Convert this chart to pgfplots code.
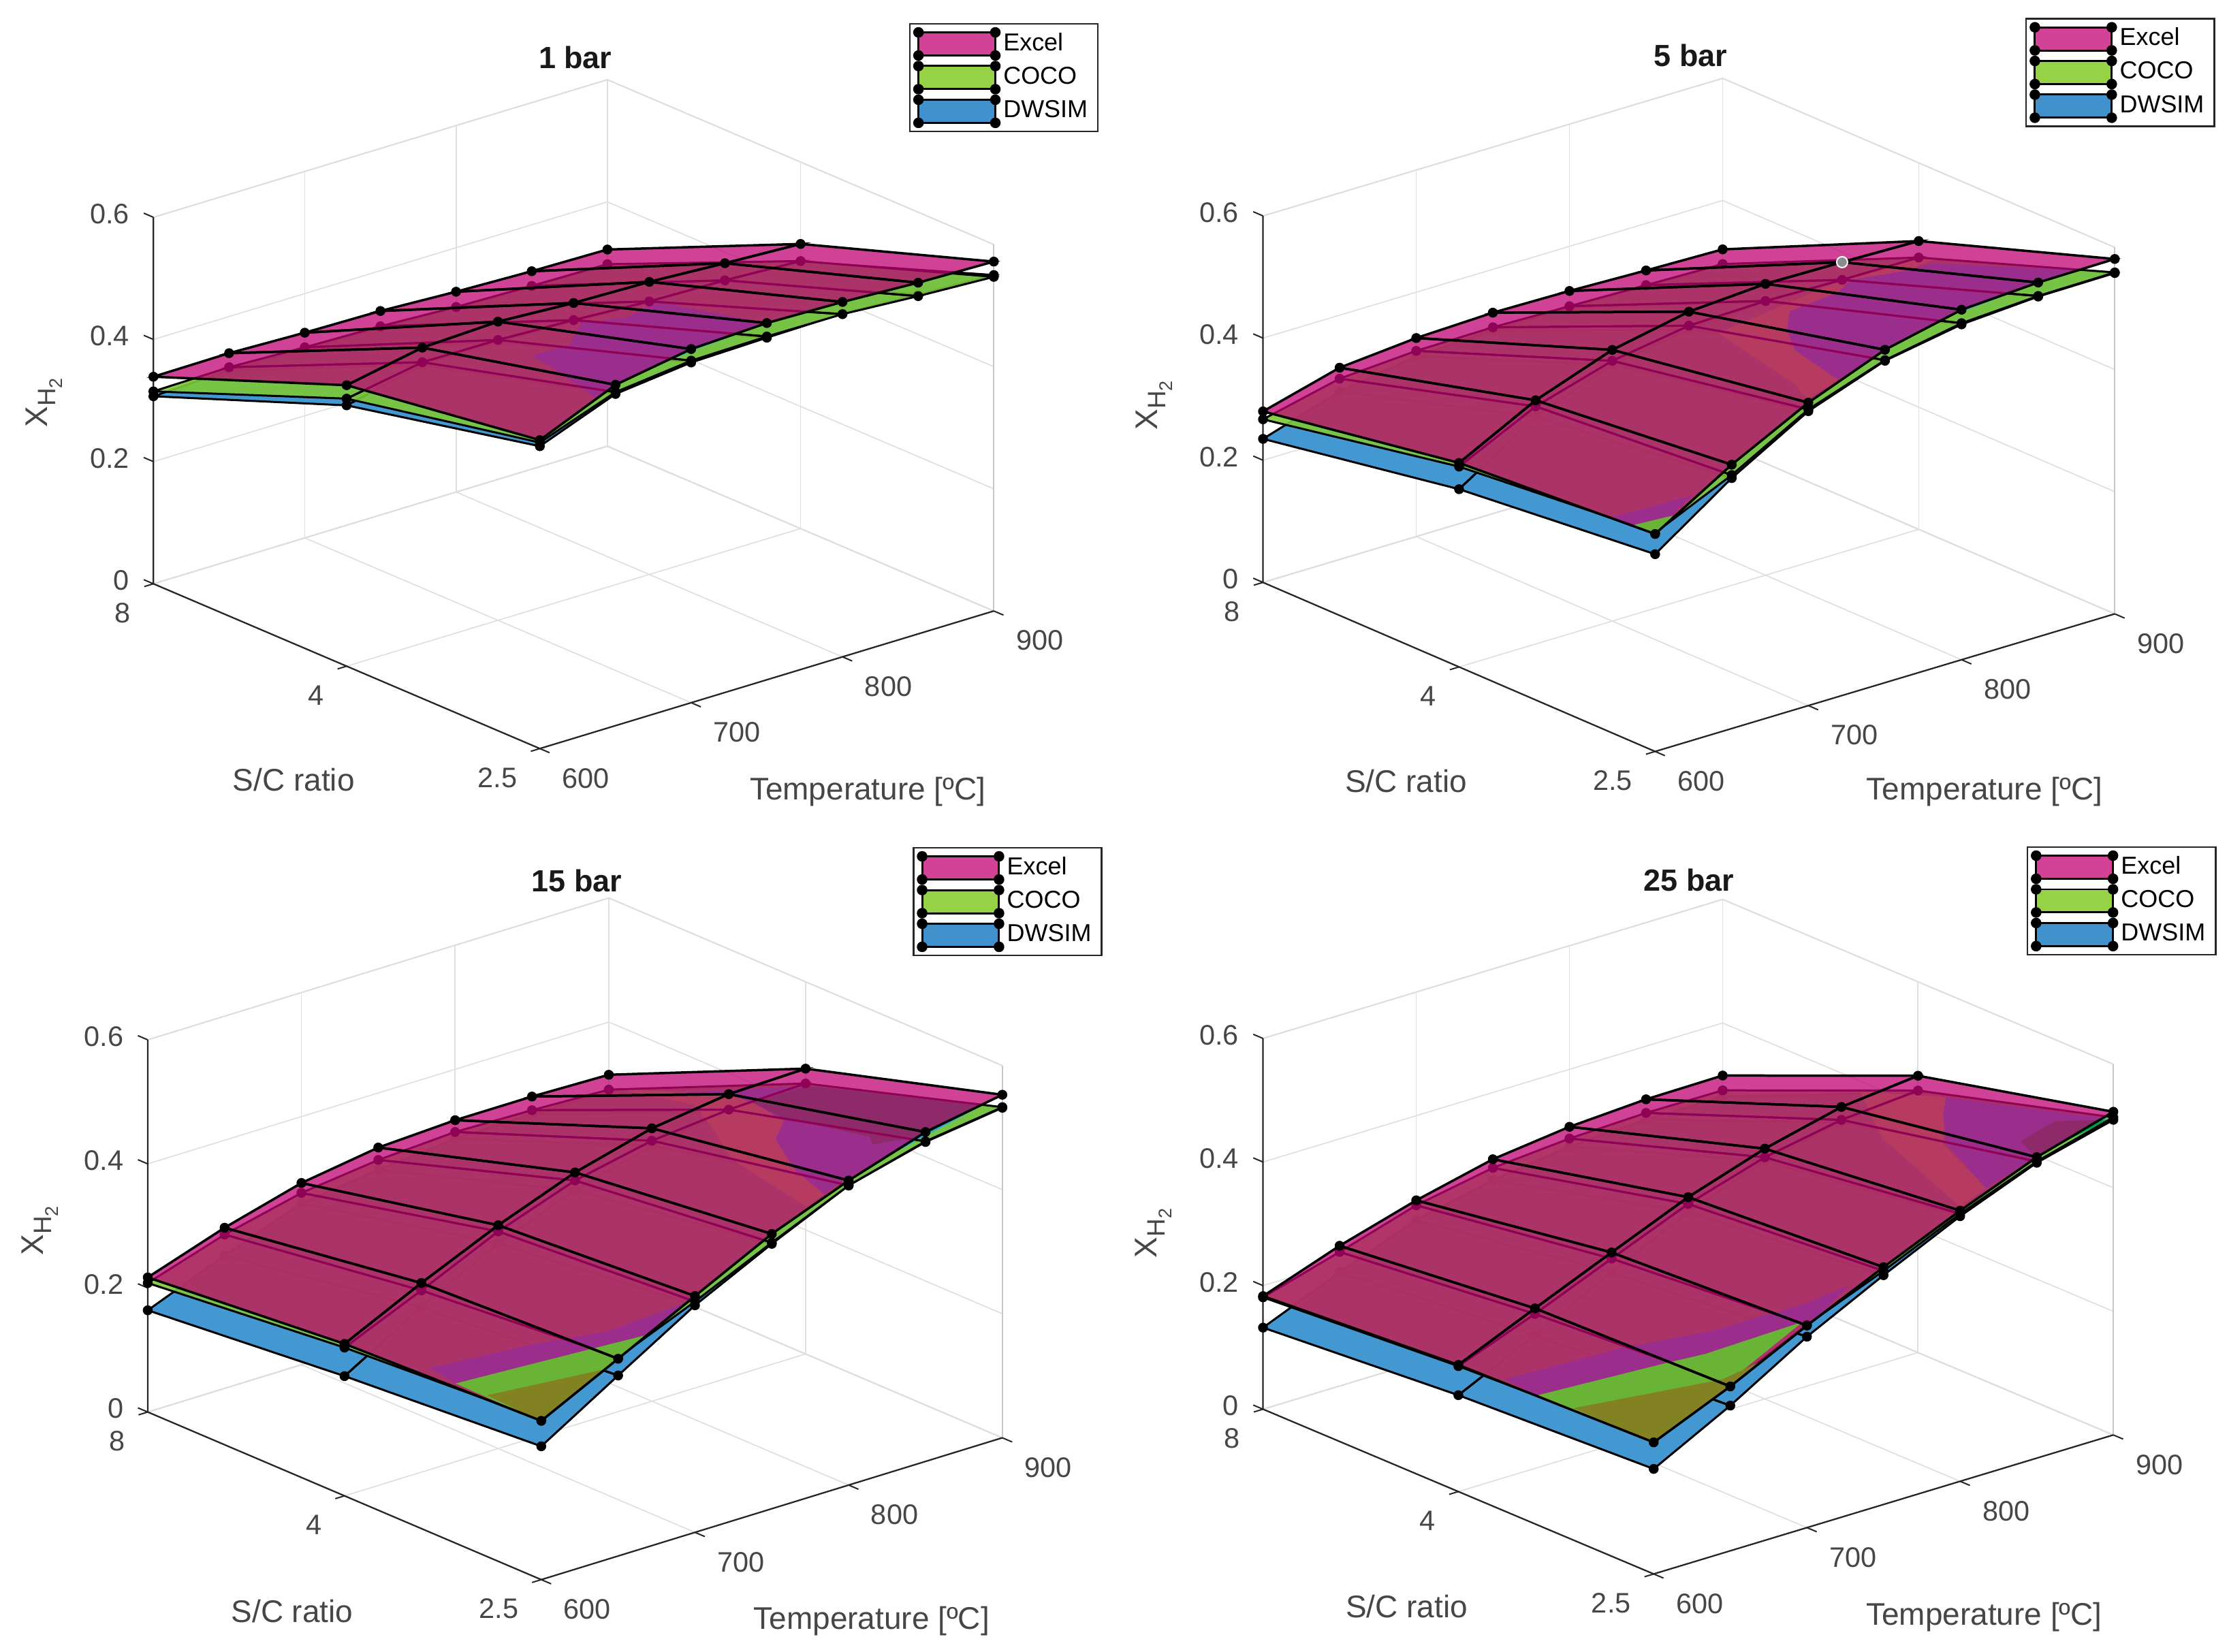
\documentclass[border=0pt]{standalone}
\usepackage{pgfplots}
\usepackage{pgfplotstable}
\usepackage{fontspec}
\setmainfont{Liberation Sans}
\pgfplotsset{compat=1.18}

\definecolor{cexcel}{RGB}{191,3,115}
\definecolor{ccoco}{RGB}{125,200,55}
\definecolor{cdwsim}{RGB}{68,152,210}
\definecolor{lexcel}{RGB}{210,66,150}
\definecolor{lcoco}{RGB}{150,210,70}
\definecolor{ldwsim}{RGB}{65,145,205}
\definecolor{cblueunder}{RGB}{48,172,216}
\definecolor{clight}{RGB}{160,230,40}
\definecolor{cdark}{RGB}{0,160,80}
\definecolor{ctopgreen}{RGB}{105,180,55}
\definecolor{colive}{RGB}{130,130,35}
\definecolor{ctext}{RGB}{70,70,70}

\pgfplotsset{
  colormap={mexcel}{color=(cexcel) color=(cexcel)},
  colormap={mcoco}{color=(ccoco) color=(ccoco)},
  colormap={mdwsim}{color=(cdwsim) color=(cdwsim)},
  colormap={mblack}{color=(black) color=(black)},
}

% T, S/C index (0=2.5, 1=4, 2=8), then one column per simulator
\pgfplotstableread{
T S excel coco dwsim
600 0 .505 .501 .495
650 0 .558 .546 .543
700 0 .579 .560 .557
750 0 .584 .562 .560
800 0 .581 .561 .562
850 0 .575 .553 .556
900 0 .572 .547 .550
600 1 .460 .438 .427
650 1 .484 .460 .455
700 1 .489 .459 .456
750 1 .482 .454 .452
800 1 .479 .447 .446
850 1 .472 .444 .443
900 1 .466 .438 .437
600 2 .339 .315 .307
650 2 .340 .317 .312
700 2 .336 .312 .309
750 2 .334 .309 .306
800 2 .328 .303 .301
850 2 .324 .300 .298
900 2 .322 .298 .296
}\tabA
\pgfplotstableread{
T S excel coco dwsim
600 0 .356 .358 .323
650 0 .432 .415 .410
700 0 .496 .485 .482
750 0 .545 .528 .527
800 0 .573 .551 .549
850 0 .580 .558 .557
900 0 .581 .559 .558
600 1 .334 .328 .291
650 1 .399 .389 .372
700 1 .444 .426 .420
750 1 .469 .446 .440
800 1 .477 .449 .447
850 1 .475 .446 .445
900 1 .472 .445 .444
600 2 .280 .267 .235
650 2 .314 .296 .275
700 2 .325 .304 .295
750 2 .329 .305 .300
800 2 .327 .302 .300
850 2 .323 .299 .297
900 2 .320 .296 .295
}\tabB
\pgfplotstableread{
T S excel coco dwsim
600 0 .256 .258 .215
650 0 .318 .320 .291
700 0 .381 .372 .366
750 0 .443 .429 .427
800 0 .491 .483 .483
850 0 .531 .516 .515
900 0 .553 .533 .532
600 1 .245 .239 .193
650 1 .305 .293 .266
700 1 .360 .350 .331
750 1 .407 .394 .378
800 1 .440 .420 .412
850 1 .457 .432 .428
900 1 .460 .436 .433
600 2 .217 .208 .164
650 2 .259 .248 .214
700 2 .293 .277 .260
750 2 .312 .292 .276
800 2 .318 .299 .288
850 2 .318 .296 .290
900 2 .315 .291 .288
}\tabC
\pgfplotstableread{
T S excel coco dwsim
600 0 .213 .217 .170
650 0 .266 .270 .235
700 0 .327 .328 .309
750 0 .384 .378 .371
800 0 .438 .433 .429
850 0 .487 .480 .478
900 0 .523 .514 .510
600 1 .205 .203 .156
650 1 .259 .250 .216
700 1 .312 .302 .280
750 1 .364 .353 .340
800 1 .405 .391 .385
850 1 .435 .414 .410
900 1 .448 .424 .421
600 2 .183 .181 .132
650 2 .227 .217 .184
700 2 .263 .255 .231
750 2 .292 .278 .258
800 2 .307 .288 .275
850 2 .314 .292 .281
900 2 .315 .291 .281
}\tabD

\newcommand{\legpatch}[1]{\addlegendimage{legend image code/.code={
  \fill[#1] (0pt,-3.4pt) rectangle (22.6pt,3.4pt);
  \draw[black,line width=.6pt] (0pt,-3.4pt) rectangle (22.6pt,3.4pt);
  \fill[black] (0pt,-3.4pt) circle (1.3pt) (22.6pt,-3.4pt) circle (1.3pt)
               (0pt,3.4pt) circle (1.3pt) (22.6pt,3.4pt) circle (1.3pt);
}}}

% colour regions where the reference's transparent surfaces change order,
% given as points of the projected surface
\newcommand{\region}[2]{\addplot3[forget plot,no marks,draw=none,fill=#1] table[row sep=\\,
  x expr={600+50*(\thisrow{px}-\Fx)/\Dx}, y expr=0,
  z expr={(\Fy-\Dy*(\thisrow{px}-\Fx)/\Dx-\thisrow{py})/\Zs}] {px py\\ #2};}

% front axis lines and their ticks; the box itself stays light grey
\newcommand{\frameaxes}{
  \addplot3[forget plot,no marks,line width=.45pt,color=black!85] coordinates {(600,2,.6) (600,2,0) (600,0,0) (900,0,0)};
  \addplot3[forget plot,no marks,line width=.4pt,color=black!85,unbounded coords=jump] coordinates {
    (600,0,0) (600,-.05,0) (nan,nan,nan)
    (700,0,0) (700,-.05,0) (nan,nan,nan)
    (800,0,0) (800,-.05,0) (nan,nan,nan)
    (900,0,0) (900,-.05,0) (nan,nan,nan)
    (600,0,0) (594,0,0) (nan,nan,nan)
    (600,1,0) (594,1,0) (nan,nan,nan)
    (600,2,0) (594,2,0) (nan,nan,nan)
    (600,2,0) (600,2.05,0) (nan,nan,nan)
    (600,2,.2) (600,2.05,.2) (nan,nan,nan)
    (600,2,.4) (600,2.05,.4) (nan,nan,nan)
    (600,2,.6) (600,2.05,.6)
  };
  \legpatch{lexcel}\addlegendentry{Excel}
  \legpatch{lcoco}\addlegendentry{COCO}
  \legpatch{ldwsim}\addlegendentry{DWSIM}
}
\newcommand{\lowerfills}[1]{
  \addplot3[forget plot,surf,shader=flat,colormap name=mdwsim,mesh/cols=7] table[x=T,y=S,z=dwsim] {#1};
  \addplot3[forget plot,mesh,colormap name=mblack,line width=.6pt,mesh/cols=7] table[x=T,y=S,z=dwsim] {#1};
  \addplot3[forget plot,only marks,mark=*,mark size=1.25pt,black] table[x=T,y=S,z=dwsim] {#1};
  \addplot3[forget plot,surf,shader=flat,colormap name=mcoco,fill opacity=.9,mesh/cols=7] table[x=T,y=S,z=coco] {#1};
}
\newcommand{\excelfill}[1]{
  \addplot3[forget plot,mesh,colormap name=mblack,line width=.6pt,mesh/cols=7] table[x=T,y=S,z=coco] {#1};
  \addplot3[forget plot,only marks,mark=*,mark size=1.25pt,black] table[x=T,y=S,z=coco] {#1};
  \addplot3[forget plot,surf,shader=flat,colormap name=mexcel,fill opacity=.75,draw opacity=0,mesh/cols=7] table[x=T,y=S,z=excel] {#1};
}
\newcommand{\excellines}[1]{
  \addplot3[forget plot,mesh,colormap name=mblack,line width=.7pt,mesh/cols=7] table[x=T,y=S,z=excel] {#1};
  \addplot3[forget plot,only marks,mark=*,mark size=1.25pt,black] table[x=T,y=S,z=excel] {#1};
}

\pgfplotsset{
  panel/.style={
    scale only axis,
    clip=false,
    clip mode=individual,
    xmin=600,xmax=900,ymin=0,ymax=2,zmin=0,zmax=.6,
    xtick={600,700,800,900},
    ytick={0,1,2},yticklabels={2.5,4,8},
    ztick={0,.2,.4,.6},zticklabels={0,0.2,0.4,0.6},
    /pgf/number format/assume math mode=true,
    grid=major,
    grid style={color=black!12,line width=.35pt},
    axis line style={color=black!22,line width=.35pt},
    major tick length=0pt,
    tick label style={font=\fontsize{8.3}{9}\selectfont,text=ctext},
    xticklabel style={anchor=center,xshift=13.5pt,yshift=-8.7pt},
    yticklabel style={anchor=east,xshift=-3.2pt,yshift=-8.5pt},
    zticklabel style={anchor=east,xshift=-3.6pt,yshift=1pt},
    xlabel={Temperature [ºC]},
    ylabel={S/C ratio},
    zlabel={X\raisebox{-.5ex}{\fontsize{7.4}{8}\selectfont H\raisebox{-.5ex}{\fontsize{5.4}{6}\selectfont 2}}},
    label style={font=\fontsize{9.2}{10}\selectfont,text=ctext},
    title style={font=\fontsize{9}{10}\selectfont\bfseries,anchor=center,text=black!90},
    legend cell align=left,
    legend style={anchor=north west,draw=black!85,line width=.5pt,
      font=\fontsize{7.2}{8}\selectfont,row sep=0pt,inner sep=1pt,
      /tikz/every even column/.append style={column sep=-1.6pt},
      nodes={inner sep=.8pt,text height=5.8pt,text depth=2pt,text width=26pt,align=left}},
  },
}

\begin{document}
\begin{tikzpicture}
\path[use as bounding box] (0,0) rectangle (655.2pt,485.46pt);

% 1 bar
\def\Fx{757}\def\Fy{1400}\def\Dx{106.8}\def\Dy{43.3}\def\Zs{1148}
\begin{axis}[panel,at={(45.1pt,265.4pt)},anchor=south west,
  x={(320*0.001392pt,97*0.001392pt)},y={(-272*0.2088pt,116*0.2088pt)},z={(0pt,258*0.696pt)},
  title={1 bar},
  title style={at={(axis description cs:.502,1.003)}},
  xlabel style={at={(axis description cs:.850,-.064)},anchor=center},
  ylabel style={at={(axis description cs:.167,-.047)},anchor=center},
  zlabel style={at={(axis description cs:-.130,.517)},anchor=center,rotate=0},
  legend style={at={(axis description cs:.899,1.085)}}]
\frameaxes
\lowerfills{\tabA}
\region{cblueunder}{745 662\\ 800 640\\ 815 600\\ 880 590\\ 920 560\\ 1080 600\\ 975 650\\ 865 715\\ 835 740\\ 770 680\\}
\excelfill{\tabA}
\excellines{\tabA}
\end{axis}

% 5 bar
\def\Fx{700}\def\Fy{2249}\def\Dx{133.8}\def\Dy{95}\def\Zs{2510}
\begin{axis}[panel,at={(371.25pt,264.55pt)},anchor=south west,
  x={(324*0.001392pt,97*0.001392pt)},y={(-276*0.2088pt,119*0.2088pt)},z={(0pt,258*0.696pt)},
  title={5 bar},
  title style={at={(axis description cs:.502,1.004)}},
  xlabel style={at={(axis description cs:.847,-.060)},anchor=center},
  ylabel style={at={(axis description cs:.168,-.044)},anchor=center},
  zlabel style={at={(axis description cs:-.128,.514)},anchor=center,rotate=0},
  legend style={at={(axis description cs:.895,1.090)}}]
\frameaxes
\lowerfills{\tabB}
\region{clight}{810 530\\ 945 740\\ 965 800\\ 1020 720\\ 945 600\\ 930 520\\ 935 440\\ 1020 360\\ 1040 310\\ 1140 270\\ 1185 225\\ 1165 215\\ 1035 300\\}
\region{cblueunder}{1185 240\\ 1430 265\\ 1370 320\\ 1200 470\\ 1100 600\\ 1020 720\\ 945 600\\ 930 520\\ 935 440\\ 1020 360\\ 1040 310\\ 1140 270\\}
\region{cblueunder}{625 1285\\ 700 1240\\ 765 1195\\ 730 1280\\ 660 1320\\}
\excelfill{\tabB}
\region{ctopgreen}{660 1320\\ 730 1280\\ 710 1345\\ 700 1350\\}
\excellines{\tabB}
\addplot3[forget plot,only marks,mark=*,mark size=1.6pt,draw=white,fill=black!45] coordinates {(850,1,.475)};
\end{axis}

% 15 bar
\def\Fx{705}\def\Fy{1992}\def\Dx{134.5}\def\Dy{91.3}\def\Zs{2380}
\begin{axis}[panel,at={(43.43pt,21.09pt)},anchor=south west,
  x={(325*0.001392pt,100*0.001392pt)},y={(-277*0.2088pt,118*0.2088pt)},z={(0pt,262*0.696pt)},
  title={15 bar},
  title style={at={(axis description cs:.502,.9955)}},
  xlabel style={at={(axis description cs:.847,-.061)},anchor=center},
  ylabel style={at={(axis description cs:.169,-.046)},anchor=center},
  zlabel style={at={(axis description cs:-.126,.512)},anchor=center,rotate=0},
  legend style={at={(axis description cs:.895,1.075)}}]
\frameaxes
\lowerfills{\tabC}
\region{clight}{1005 260\\ 1040 380\\ 1170 560\\ 1200 510\\ 1150 420\\ 1115 300\\ 1130 230\\ 1080 165\\ 1040 130\\ 900 115\\ 830 105\\ 975 170\\}
\region{cblueunder}{1170 95\\ 1480 165\\ 1375 290\\ 1240 450\\ 1200 510\\ 1150 420\\ 1115 300\\ 1130 230\\ 1080 165\\ 1040 135\\ 930 125\\}
\region{cdark}{1170 95\\ 1470 165\\ 1375 285\\ 1285 320\\ 1280 290\\ 1130 220\\ 1075 160\\}
\region{cblueunder}{510 1180\\ 700 1085\\ 820 1040\\ 960 925\\ 885 1055\\ 795 1105\\ 555 1240\\}
\excelfill{\tabC}
\region{ctopgreen}{555 1240\\ 795 1105\\ 885 1055\\ 840 1150\\ 705 1385\\}
\region{colive}{610 1285\\ 815 1185\\ 705 1385\\}
\excellines{\tabC}
\end{axis}

% 25 bar
\def\Fx{700}\def\Fy{1907}\def\Dx{133.7}\def\Dy{86.7}\def\Zs{2308}
\begin{axis}[panel,at={(371.25pt,22.76pt)},anchor=south west,
  x={(324*0.001392pt,98*0.001392pt)},y={(-275*0.2088pt,116*0.2088pt)},z={(0pt,261*0.696pt)},
  title={25 bar},
  title style={at={(axis description cs:.501,.998)}},
  xlabel style={at={(axis description cs:.848,-.064)},anchor=center},
  ylabel style={at={(axis description cs:.169,-.048)},anchor=center},
  zlabel style={at={(axis description cs:-.129,.505)},anchor=center,rotate=0},
  legend style={at={(axis description cs:.898,1.079)}}]
\frameaxes
\lowerfills{\tabD}
\region{clight}{1060 105\\ 1210 125\\ 1205 300\\ 1280 465\\ 1235 535\\ 1100 280\\}
\region{cblueunder}{1210 125\\ 1490 205\\ 1370 345\\ 1280 465\\ 1210 300\\ 1205 190\\}
\region{cdark}{1495 210\\ 1400 215\\ 1340 290\\ 1365 345\\}
\region{cblueunder}{440 1180\\ 650 1060\\ 800 1000\\ 960 900\\ 1040 830\\ 985 950\\ 960 965\\ 790 1085\\ 720 1120\\ 497 1240\\}
\excelfill{\tabD}
\region{ctopgreen}{497 1240\\ 720 1120\\ 790 1085\\ 960 965\\ 700 1415\\}
\region{colive}{560 1288\\ 820 1180\\ 890 1110\\ 700 1415\\}
\excellines{\tabD}
\end{axis}
\end{tikzpicture}
\end{document}
